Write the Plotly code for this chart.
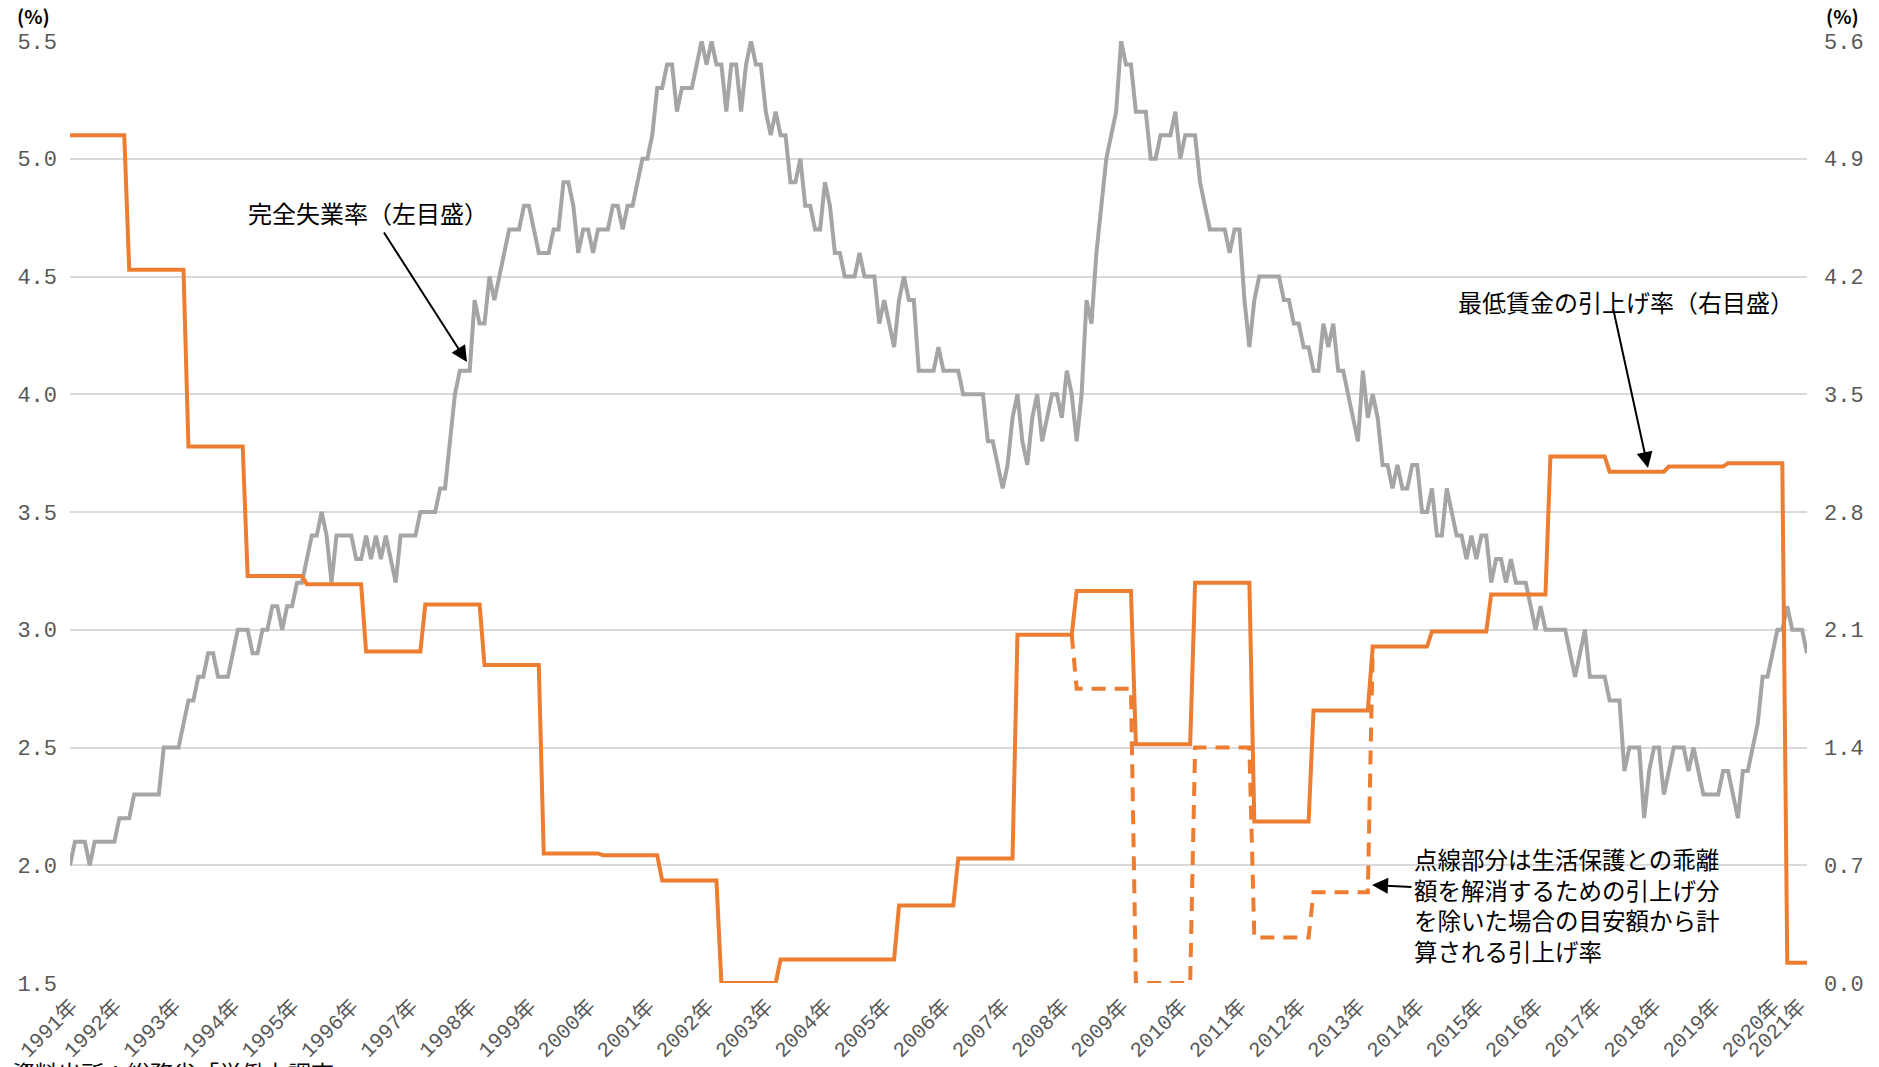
import plotly.graph_objects as go

# ---------------- data ----------------
# 完全失業率（季節調整値, %）: monthly, starting Oct 1991
unemployment = [
    2.0, 2.1, 2.1, 2.1, 2.0, 2.1, 2.1, 2.1, 2.1, 2.1,
    2.2, 2.2, 2.2, 2.3, 2.3, 2.3, 2.3, 2.3, 2.3, 2.5,
    2.5, 2.5, 2.5, 2.6, 2.7, 2.7, 2.8, 2.8, 2.9, 2.9,
    2.8, 2.8, 2.8, 2.9, 3.0, 3.0, 3.0, 2.9, 2.9, 3.0,
    3.0, 3.1, 3.1, 3.0, 3.1, 3.1, 3.2, 3.2, 3.3, 3.4,
    3.4, 3.5, 3.4, 3.2, 3.4, 3.4, 3.4, 3.4, 3.3, 3.3,
    3.4, 3.3, 3.4, 3.3, 3.4, 3.3, 3.2, 3.4, 3.4, 3.4,
    3.4, 3.5, 3.5, 3.5, 3.5, 3.6, 3.6, 3.8, 4.0, 4.1,
    4.1, 4.1, 4.4, 4.3, 4.3, 4.5, 4.4, 4.5, 4.6, 4.7,
    4.7, 4.7, 4.8, 4.8, 4.7, 4.6, 4.6, 4.6, 4.7, 4.7,
    4.9, 4.9, 4.8, 4.6, 4.7, 4.7, 4.6, 4.7, 4.7, 4.7,
    4.8, 4.8, 4.7, 4.8, 4.8, 4.9, 5.0, 5.0, 5.1, 5.3,
    5.3, 5.4, 5.4, 5.2, 5.3, 5.3, 5.3, 5.4, 5.5, 5.4,
    5.5, 5.4, 5.4, 5.2, 5.4, 5.4, 5.2, 5.4, 5.5, 5.4,
    5.4, 5.2, 5.1, 5.2, 5.1, 5.1, 4.9, 4.9, 5.0, 4.8,
    4.8, 4.7, 4.7, 4.9, 4.8, 4.6, 4.6, 4.5, 4.5, 4.5,
    4.6, 4.5, 4.5, 4.5, 4.3, 4.4, 4.3, 4.2, 4.4, 4.5,
    4.4, 4.4, 4.1, 4.1, 4.1, 4.1, 4.2, 4.1, 4.1, 4.1,
    4.1, 4.0, 4.0, 4.0, 4.0, 4.0, 3.8, 3.8, 3.7, 3.6,
    3.7, 3.9, 4.0, 3.8, 3.7, 3.9, 4.0, 3.8, 3.9, 4.0,
    4.0, 3.9, 4.1, 4.0, 3.8, 4.0, 4.4, 4.3, 4.6, 4.8,
    5.0, 5.1, 5.2, 5.5, 5.4, 5.4, 5.2, 5.2, 5.2, 5.0,
    5.0, 5.1, 5.1, 5.1, 5.2, 5.0, 5.1, 5.1, 5.1, 4.9,
    4.8, 4.7, 4.7, 4.7, 4.7, 4.6, 4.7, 4.7, 4.4, 4.2,
    4.4, 4.5, 4.5, 4.5, 4.5, 4.5, 4.4, 4.4, 4.3, 4.3,
    4.2, 4.2, 4.1, 4.1, 4.3, 4.2, 4.3, 4.1, 4.1, 4.0,
    3.9, 3.8, 4.1, 3.9, 4.0, 3.9, 3.7, 3.7, 3.6, 3.7,
    3.6, 3.6, 3.7, 3.7, 3.5, 3.5, 3.6, 3.4, 3.4, 3.6,
    3.5, 3.4, 3.4, 3.3, 3.4, 3.3, 3.4, 3.4, 3.2, 3.3,
    3.3, 3.2, 3.3, 3.2, 3.2, 3.2, 3.1, 3.0, 3.1, 3.0,
    3.0, 3.0, 3.0, 3.0, 2.9, 2.8, 2.9, 3.0, 2.8, 2.8,
    2.8, 2.8, 2.7, 2.7, 2.7, 2.4, 2.5, 2.5, 2.5, 2.2,
    2.4, 2.5, 2.5, 2.3, 2.4, 2.5, 2.5, 2.5, 2.4, 2.5,
    2.4, 2.3, 2.3, 2.3, 2.3, 2.4, 2.4, 2.3, 2.2, 2.4,
    2.4, 2.5, 2.6, 2.8, 2.8, 2.9, 3.0, 3.0, 3.1, 3.0,
    3.0, 3.0, 2.9,
]

# 最低賃金の引上げ率（%）: revision year (effective each October)
wage_years = list(range(1991, 2021))
wage_rate = [5.04, 4.24, 3.19, 2.42, 2.37, 1.97, 2.25, 1.89, 0.77, 0.76,
             0.61, 0.00, 0.14, 0.14, 0.46, 0.74, 2.07, 2.33, 1.42, 2.38,
             0.96, 1.62, 2.00, 2.09, 2.31, 3.13, 3.04, 3.07, 3.09, 0.12]

# 生活保護との乖離解消分を除いた場合の引上げ率（%）
dashed_years = [2008, 2009, 2010, 2011, 2012]
dashed_rate = [1.75, 0.00, 1.40, 0.27, 0.54]

year_labels = ["1991年", "1992年", "1993年", "1994年", "1995年", "1996年", "1997年",
               "1998年", "1999年", "2000年", "2001年", "2002年", "2003年", "2004年",
               "2005年", "2006年", "2007年", "2008年", "2009年", "2010年", "2011年",
               "2012年", "2013年", "2014年", "2015年", "2016年", "2017年", "2018年",
               "2019年", "2020年", "2021年"]

# ---------------- build monthly series ----------------
n = len(unemployment)
months = list(range(n))
rate_by_year = dict(zip(wage_years, wage_rate))
dash_by_year = dict(zip(dashed_years, dashed_rate))

def year_of(m):
    return min(wage_years[0] + m // 12, wage_years[-1])

wage_monthly = [rate_by_year[year_of(m)] for m in months]

dashed_monthly = []
first_d = (dashed_years[0] - wage_years[0]) * 12 - 1
last_d = (dashed_years[-1] + 1 - wage_years[0]) * 12
for m in months:
    y = year_of(m)
    if first_d <= m <= last_d:
        dashed_monthly.append(dash_by_year.get(y, rate_by_year[y]))
    else:
        dashed_monthly.append(None)

tick_pos = [0.3] + [12 * k - 2.8 for k in range(1, len(year_labels) - 1)] + [n - 2.5]

# ---------------- figure ----------------
GRAY = "#A5A5A5"
ORANGE = "#ED7D31"
FONT = "Noto Sans CJK JP"
NUMFONT = "Liberation Mono, Noto Sans CJK JP"

fig = go.Figure()
fig.add_trace(go.Scatter(x=months, y=unemployment, mode="lines",
                         line=dict(color=GRAY, width=4), name="完全失業率",
                         yaxis="y"))
fig.add_trace(go.Scatter(x=months, y=dashed_monthly, mode="lines",
                         line=dict(color=ORANGE, width=4, dash="14px,9px"),
                         name="乖離解消分除く", yaxis="y2", connectgaps=False))
fig.add_trace(go.Scatter(x=months, y=wage_monthly, mode="lines",
                         line=dict(color=ORANGE, width=4), name="最低賃金の引上げ率",
                         yaxis="y2"))

fig.update_layout(
    width=1879, height=1067,
    margin=dict(l=70, r=72, t=41, b=84, autoexpand=False),
    paper_bgcolor="white", plot_bgcolor="white",
    showlegend=False,
    font=dict(family=FONT, color="#000000"),
    xaxis=dict(range=[0, n - 1], tickmode="array", tickvals=tick_pos,
               ticktext=year_labels, tickangle=-45, showgrid=False,
               zeroline=False, showline=False, ticks="", automargin=False,
               ticklabelstandoff=6,
               tickfont=dict(size=21, color="#595959", family=NUMFONT)),
    yaxis=dict(range=[1.5, 5.5], dtick=0.5, tick0=1.5, tickformat=".1f",
               showgrid=True, gridcolor="#D9D9D9", gridwidth=1.5,
               zeroline=False, showline=False, ticks="", automargin=False,
               ticklabelstandoff=12,
               tickfont=dict(size=22, color="#595959", family=NUMFONT)),
    yaxis2=dict(range=[0, 5.6], dtick=0.7, tick0=0, tickformat=".1f",
                overlaying="y", side="right", showgrid=False,
                zeroline=False, showline=False, ticks="", automargin=False,
                ticklabelstandoff=16,
                tickfont=dict(size=22, color="#595959", family=NUMFONT)),
)

def px2paper(px, py):
    return (px - 70) / (1879 - 70 - 72), (1067 - 84 - py) / (1067 - 41 - 84)

annos = []
# unit labels
x, y = px2paper(33, 15)
annos.append(dict(text="<b>(%)</b>", x=x, y=y, xref="paper", yref="paper", showarrow=False,
                  font=dict(size=19, color="#000000"), xanchor="center", yanchor="middle"))
x, y = px2paper(1842, 16)
annos.append(dict(text="<b>(%)</b>", x=x, y=y, xref="paper", yref="paper", showarrow=False,
                  font=dict(size=19, color="#000000"), xanchor="center", yanchor="middle"))
# labels
x, y = px2paper(246, 213)
annos.append(dict(text="完全失業率（左目盛）", x=x, y=y, xref="paper", yref="paper",
                  showarrow=False, font=dict(size=24), xanchor="left", yanchor="middle"))
x, y = px2paper(1456, 301)
annos.append(dict(text="最低賃金の引上げ率（右目盛）", x=x, y=y, xref="paper", yref="paper",
                  showarrow=False, font=dict(size=24), xanchor="left", yanchor="middle"))
x, y = px2paper(1412, 905)
annos.append(dict(text="点線部分は生活保護との乖離<br>額を解消するための引上げ分<br>を除いた場合の目安額から計<br>算される引上げ率",
                  x=x, y=y, xref="paper", yref="paper", showarrow=False, align="left",
                  font=dict(size=23.5), xanchor="left", yanchor="middle"))
# arrows
for (hx, hy, tx, ty) in [(467, 362, 383, 231), (1648, 468, 1613, 308), (1372, 885, 1413, 887)]:
    x, y = px2paper(hx, hy)
    annos.append(dict(text="", x=x, y=y, xref="paper", yref="paper", showarrow=True,
                      ax=tx - hx, ay=ty - hy, axref="pixel", ayref="pixel",
                      arrowhead=2, arrowsize=1.6, arrowwidth=2, arrowcolor="#000000"))
# source (cut at bottom edge as in the original)
x, y = px2paper(10, 1072)
annos.append(dict(text="資料出所：総務省「労働力調査」", x=x, y=y, xref="paper", yref="paper",
                  showarrow=False, font=dict(size=23), xanchor="left", yanchor="middle"))
fig.update_layout(annotations=annos)

fig.write_html("out.html", config={"displayModeBar": False},
               post_script="document.body.style.margin='0px';document.body.style.overflow='hidden';")
